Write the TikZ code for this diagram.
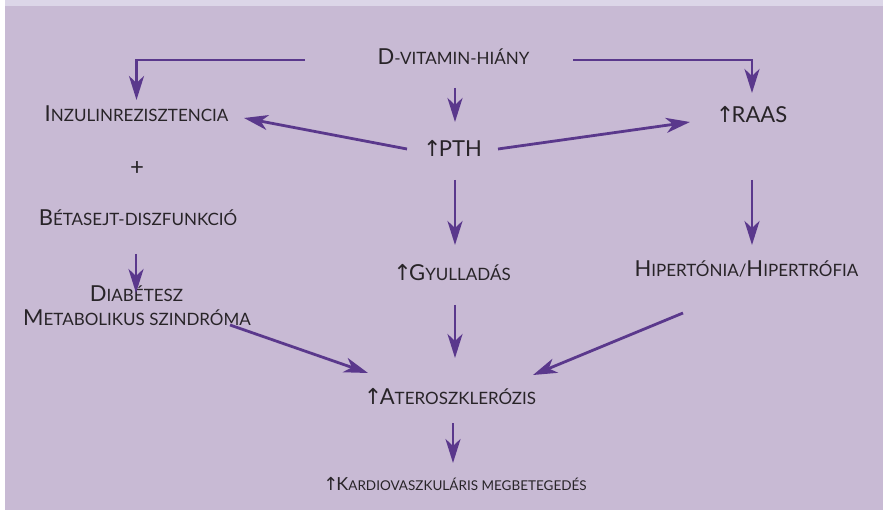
\documentclass[tikz,border=0pt]{standalone}
\usepackage{fontspec}
\setmainfont{Lato}
\newfontfamily\symf{DejaVu Sans}
\usetikzlibrary{arrows.meta,calc}
\definecolor{bgmain}{RGB}{200,186,212}
\definecolor{bgtop}{RGB}{220,214,232}
\definecolor{arrowc}{RGB}{90,56,140}
\definecolor{txt}{RGB}{40,36,40}
\newcommand\BC[1]{{\fontsize{22}{22}\selectfont #1}}
\newcommand\UP{{\symf\fontsize{22}{22}\selectfont ↑}\kern-2.5pt}
\begin{document}
\begin{tikzpicture}[x=1pt,y=-1pt,
 lbl/.style={anchor=base,inner sep=0pt,text=txt,font=\fontsize{17}{17}\selectfont},
 arr/.style={draw=arrowc,line width=2.8pt,-{Stealth[length=24pt,width=15pt,inset=7pt]}}]
\fill[white] (0,0) rectangle (883,510);
\fill[bgtop] (5,0) rectangle (883,6);
\fill[bgmain] (5,6) rectangle (883,510);
\useasboundingbox (0,0) rectangle (883,510);
\node[lbl] (dvit) at (453.5,65) {\BC{D}-VITAMIN-HIÁNY};
\node[lbl] (inz) at (136.5,122) {\BC{I}NZULINREZISZTENCIA};
\node[lbl] (pth) at (452.5,157) {\UP\BC{PTH}};
\node[lbl] (raas) at (751.5,123) {\UP\BC{RAAS}};
\node[lbl,font=\fontsize{24}{24}\selectfont] (plus) at (137,176) {+};
\node[lbl] (beta) at (138,226) {\BC{B}ÉTASEJT-DISZFUNKCIÓ};
\node[lbl] (diab) at (136.5,302) {\BC{D}IABÉTESZ};
\node[lbl] (meta) at (137,326) {\BC{M}ETABOLIKUS SZINDRÓMA};
\node[lbl] (gyul) at (452,281) {\UP\BC{G}YULLADÁS};
\node[lbl] (hip) at (746.5,277) {\BC{H}IPERTÓNIA/\BC{H}IPERTRÓFIA};
\node[lbl] (ath) at (450,404) {\UP\BC{A}TEROSZKLERÓZIS};
\node[lbl,font=\fontsize{13.5}{13.5}\selectfont] (kard) at (455,490) {{\symf\fontsize{18}{18}\selectfont ↑}\kern-2pt{\fontsize{18}{18}\selectfont K}ARDIOVASZKULÁRIS MEGBETEGEDÉS};
\draw[arr] ([shift={(-148.5,-5)}]dvit.base) -| ([shift={(0,-22)}]inz.base);
\draw[arr] ([shift={(119.5,-5)}]dvit.base) -| ([shift={(0.5,-30)}]raas.base);
\draw[arr] ([shift={(1.5,23)}]dvit.base) -- ([shift={(2.5,-35)}]pth.base);
\draw[arr] ([shift={(-45.5,-8)}]pth.base) -- ([shift={(107.5,-4)}]inz.base);
\draw[arr] ([shift={(45.5,-8)}]pth.base) -- ([shift={(-61.5,-1)}]raas.base);
\draw[arr] ([shift={(2.5,23)}]pth.base) -- ([shift={(3,-36)}]gyul.base);
\draw[arr] ([shift={(0.5,57)}]raas.base) -- ([shift={(5.5,-32)}]hip.base);
\draw[arr] ([shift={(-2,28)}]beta.base) -- ([shift={(-0.5,-9)}]diab.base);
\draw[arr] ([shift={(3,24)}]gyul.base) -- ([shift={(5,-46)}]ath.base);
\draw[arr] ([shift={(93,-1)}]meta.base) -- ([shift={(-82,-31)}]ath.base);
\draw[arr] ([shift={(-63.5,36)}]hip.base) -- ([shift={(83,-29)}]ath.base);
\draw[arr] ([shift={(3,19)}]ath.base) -- ([shift={(-2,-27)}]kard.base);
\end{tikzpicture}
\end{document}
